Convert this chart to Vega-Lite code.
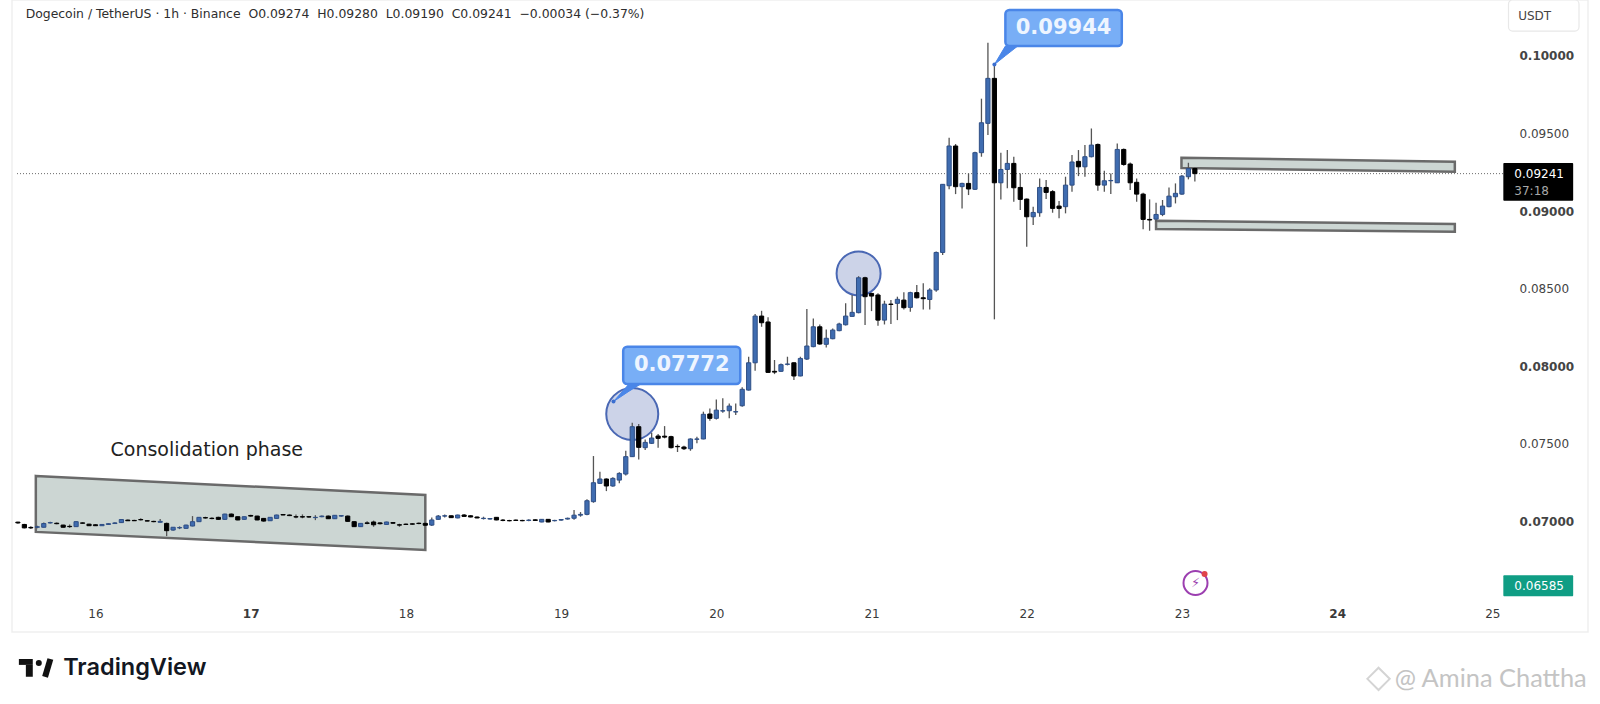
{
  "$schema": "https://vega.github.io/schema/vega-lite/v6.json",
  "width": 1576,
  "height": 632,
  "padding": {"left": 12, "top": 0, "right": 12, "bottom": 72},
  "autosize": {"type": "none"},
  "background": "#ffffff",
  "view": {"stroke": "#efefef", "strokeWidth": 1.5},
  "datasets": {
    "candles": [
      {"hour":12,"open":0.06995,"high":0.06998,"low":0.06985,"close":0.06990},
      {"hour":13,"open":0.06980,"high":0.06984,"low":0.06955,"close":0.06958},
      {"hour":14,"open":0.06961,"high":0.06968,"low":0.06950,"close":0.06958},
      {"hour":15,"open":0.06962,"high":0.06972,"low":0.06955,"close":0.06965},
      {"hour":16,"open":0.06962,"high":0.06992,"low":0.06960,"close":0.06986},
      {"hour":17,"open":0.06990,"high":0.06998,"low":0.06986,"close":0.06992},
      {"hour":18,"open":0.06988,"high":0.06992,"low":0.06982,"close":0.06985},
      {"hour":19,"open":0.06976,"high":0.06978,"low":0.06960,"close":0.06962},
      {"hour":20,"open":0.06968,"high":0.06980,"low":0.06958,"close":0.06966},
      {"hour":21,"open":0.06966,"high":0.07000,"low":0.06964,"close":0.06998},
      {"hour":22,"open":0.06990,"high":0.06994,"low":0.06985,"close":0.06988},
      {"hour":23,"open":0.06982,"high":0.06985,"low":0.06970,"close":0.06972},
      {"hour":24,"open":0.06978,"high":0.06982,"low":0.06970,"close":0.06972},
      {"hour":25,"open":0.06972,"high":0.06982,"low":0.06970,"close":0.06980},
      {"hour":26,"open":0.06980,"high":0.06988,"low":0.06978,"close":0.06985},
      {"hour":27,"open":0.06986,"high":0.06994,"low":0.06984,"close":0.06990},
      {"hour":28,"open":0.06992,"high":0.07014,"low":0.06990,"close":0.07012},
      {"hour":29,"open":0.07008,"high":0.07012,"low":0.07002,"close":0.07004},
      {"hour":30,"open":0.07006,"high":0.07010,"low":0.07002,"close":0.07004},
      {"hour":31,"open":0.07012,"high":0.07020,"low":0.07006,"close":0.07010},
      {"hour":32,"open":0.07004,"high":0.07008,"low":0.07000,"close":0.07002},
      {"hour":33,"open":0.07000,"high":0.07004,"low":0.06995,"close":0.06998},
      {"hour":34,"open":0.06994,"high":0.07015,"low":0.06992,"close":0.07000},
      {"hour":35,"open":0.06987,"high":0.06992,"low":0.06905,"close":0.06940},
      {"hour":36,"open":0.06944,"high":0.06964,"low":0.06940,"close":0.06962},
      {"hour":37,"open":0.06958,"high":0.06968,"low":0.06950,"close":0.06960},
      {"hour":38,"open":0.06955,"high":0.06978,"low":0.06952,"close":0.06976},
      {"hour":39,"open":0.06970,"high":0.07034,"low":0.06968,"close":0.06998},
      {"hour":40,"open":0.06998,"high":0.07028,"low":0.06996,"close":0.07026},
      {"hour":41,"open":0.07024,"high":0.07030,"low":0.07018,"close":0.07022},
      {"hour":42,"open":0.07020,"high":0.07026,"low":0.07014,"close":0.07018},
      {"hour":43,"open":0.07026,"high":0.07030,"low":0.07010,"close":0.07013},
      {"hour":44,"open":0.07013,"high":0.07049,"low":0.07011,"close":0.07047},
      {"hour":45,"open":0.07047,"high":0.07050,"low":0.07028,"close":0.07030},
      {"hour":46,"open":0.07030,"high":0.07032,"low":0.07007,"close":0.07009},
      {"hour":47,"open":0.07013,"high":0.07032,"low":0.07011,"close":0.07030},
      {"hour":48,"open":0.07038,"high":0.07042,"low":0.07030,"close":0.07034},
      {"hour":49,"open":0.07034,"high":0.07036,"low":0.07007,"close":0.07009},
      {"hour":50,"open":0.07019,"high":0.07022,"low":0.06998,"close":0.07002},
      {"hour":51,"open":0.07004,"high":0.07028,"low":0.07002,"close":0.07026},
      {"hour":52,"open":0.07019,"high":0.07043,"low":0.07017,"close":0.07041},
      {"hour":53,"open":0.07044,"high":0.07047,"low":0.07039,"close":0.07041},
      {"hour":54,"open":0.07041,"high":0.07045,"low":0.07034,"close":0.07037},
      {"hour":55,"open":0.07030,"high":0.07045,"low":0.07020,"close":0.07028},
      {"hour":56,"open":0.07030,"high":0.07045,"low":0.07020,"close":0.07028},
      {"hour":57,"open":0.07030,"high":0.07034,"low":0.07024,"close":0.07028},
      {"hour":58,"open":0.07024,"high":0.07040,"low":0.07008,"close":0.07026},
      {"hour":59,"open":0.07030,"high":0.07038,"low":0.07026,"close":0.07034},
      {"hour":60,"open":0.07034,"high":0.07038,"low":0.07015,"close":0.07017},
      {"hour":61,"open":0.07017,"high":0.07041,"low":0.07015,"close":0.07039},
      {"hour":62,"open":0.07034,"high":0.07039,"low":0.07030,"close":0.07037},
      {"hour":63,"open":0.07034,"high":0.07038,"low":0.06998,"close":0.07000},
      {"hour":64,"open":0.06998,"high":0.07000,"low":0.06964,"close":0.06966},
      {"hour":65,"open":0.06966,"high":0.06989,"low":0.06964,"close":0.06987},
      {"hour":66,"open":0.06990,"high":0.07000,"low":0.06982,"close":0.06987},
      {"hour":67,"open":0.06996,"high":0.07005,"low":0.06965,"close":0.06978},
      {"hour":68,"open":0.06990,"high":0.06995,"low":0.06980,"close":0.06985},
      {"hour":69,"open":0.06980,"high":0.06998,"low":0.06978,"close":0.06996},
      {"hour":70,"open":0.06992,"high":0.06996,"low":0.06984,"close":0.06988},
      {"hour":71,"open":0.06978,"high":0.06985,"low":0.06965,"close":0.06976},
      {"hour":72,"open":0.06982,"high":0.06986,"low":0.06976,"close":0.06980},
      {"hour":73,"open":0.06984,"high":0.06988,"low":0.06978,"close":0.06982},
      {"hour":74,"open":0.06988,"high":0.06992,"low":0.06982,"close":0.06986},
      {"hour":75,"open":0.06987,"high":0.06992,"low":0.06970,"close":0.06975},
      {"hour":76,"open":0.06976,"high":0.07025,"low":0.06970,"close":0.07009},
      {"hour":77,"open":0.07013,"high":0.07041,"low":0.07011,"close":0.07034},
      {"hour":78,"open":0.07034,"high":0.07045,"low":0.07025,"close":0.07036},
      {"hour":79,"open":0.07036,"high":0.07038,"low":0.07022,"close":0.07024},
      {"hour":80,"open":0.07022,"high":0.07043,"low":0.07020,"close":0.07041},
      {"hour":81,"open":0.07041,"high":0.07048,"low":0.07030,"close":0.07032},
      {"hour":82,"open":0.07036,"high":0.07040,"low":0.07026,"close":0.07028},
      {"hour":83,"open":0.07028,"high":0.07032,"low":0.07020,"close":0.07022},
      {"hour":84,"open":0.07018,"high":0.07030,"low":0.07012,"close":0.07020},
      {"hour":85,"open":0.07015,"high":0.07022,"low":0.07012,"close":0.07018},
      {"hour":86,"open":0.07026,"high":0.07028,"low":0.07007,"close":0.07009},
      {"hour":87,"open":0.07008,"high":0.07016,"low":0.07000,"close":0.07006},
      {"hour":88,"open":0.07005,"high":0.07010,"low":0.07000,"close":0.07004},
      {"hour":89,"open":0.07008,"high":0.07012,"low":0.07002,"close":0.07006},
      {"hour":90,"open":0.07006,"high":0.07010,"low":0.07000,"close":0.07004},
      {"hour":91,"open":0.07006,"high":0.07014,"low":0.07000,"close":0.07008},
      {"hour":92,"open":0.07010,"high":0.07014,"low":0.07002,"close":0.07006},
      {"hour":93,"open":0.06996,"high":0.07015,"low":0.06994,"close":0.07013},
      {"hour":94,"open":0.07013,"high":0.07015,"low":0.06994,"close":0.06996},
      {"hour":95,"open":0.07004,"high":0.07010,"low":0.07000,"close":0.07006},
      {"hour":96,"open":0.07008,"high":0.07016,"low":0.07004,"close":0.07012},
      {"hour":97,"open":0.07015,"high":0.07024,"low":0.07012,"close":0.07020},
      {"hour":98,"open":0.07020,"high":0.07073,"low":0.07010,"close":0.07040},
      {"hour":99,"open":0.07040,"high":0.07060,"low":0.07030,"close":0.07045},
      {"hour":100,"open":0.07045,"high":0.07142,"low":0.07040,"close":0.07133},
      {"hour":101,"open":0.07127,"high":0.07421,"low":0.07120,"close":0.07249},
      {"hour":102,"open":0.07245,"high":0.07320,"low":0.07241,"close":0.07273},
      {"hour":103,"open":0.07273,"high":0.07277,"low":0.07195,"close":0.07228},
      {"hour":104,"open":0.07228,"high":0.07284,"low":0.07223,"close":0.07277},
      {"hour":105,"open":0.07266,"high":0.07316,"low":0.07245,"close":0.07309},
      {"hour":106,"open":0.07305,"high":0.07455,"low":0.07296,"close":0.07417},
      {"hour":107,"open":0.07417,"high":0.07636,"low":0.07415,"close":0.07610},
      {"hour":108,"open":0.07610,"high":0.07627,"low":0.07399,"close":0.07477},
      {"hour":109,"open":0.07475,"high":0.07528,"low":0.07460,"close":0.07509},
      {"hour":110,"open":0.07503,"high":0.07571,"low":0.07498,"close":0.07537},
      {"hour":111,"open":0.07550,"high":0.07563,"low":0.07475,"close":0.07535},
      {"hour":112,"open":0.07549,"high":0.07614,"low":0.07535,"close":0.07543},
      {"hour":113,"open":0.07546,"high":0.07552,"low":0.07470,"close":0.07475},
      {"hour":114,"open":0.07483,"high":0.07496,"low":0.07447,"close":0.07481},
      {"hour":115,"open":0.07479,"high":0.07488,"low":0.07460,"close":0.07468},
      {"hour":116,"open":0.07468,"high":0.07535,"low":0.07455,"close":0.07531},
      {"hour":117,"open":0.07529,"high":0.07546,"low":0.07503,"close":0.07531},
      {"hour":118,"open":0.07531,"high":0.07707,"low":0.07529,"close":0.07690},
      {"hour":119,"open":0.07692,"high":0.07728,"low":0.07649,"close":0.07664},
      {"hour":120,"open":0.07664,"high":0.07786,"low":0.07657,"close":0.07717},
      {"hour":121,"open":0.07711,"high":0.07793,"low":0.07700,"close":0.07713},
      {"hour":122,"open":0.07713,"high":0.07760,"low":0.07664,"close":0.07743},
      {"hour":123,"open":0.07705,"high":0.07760,"low":0.07685,"close":0.07707},
      {"hour":124,"open":0.07745,"high":0.07864,"low":0.07739,"close":0.07851},
      {"hour":125,"open":0.07846,"high":0.08061,"low":0.07844,"close":0.08022},
      {"hour":126,"open":0.08022,"high":0.08336,"low":0.07971,"close":0.08323},
      {"hour":127,"open":0.08323,"high":0.08357,"low":0.08254,"close":0.08280},
      {"hour":128,"open":0.08285,"high":0.08315,"low":0.07958,"close":0.07960},
      {"hour":129,"open":0.07967,"high":0.08040,"low":0.07949,"close":0.07962},
      {"hour":130,"open":0.07967,"high":0.08018,"low":0.07962,"close":0.08010},
      {"hour":131,"open":0.08012,"high":0.08061,"low":0.08005,"close":0.08014},
      {"hour":132,"open":0.08022,"high":0.08026,"low":0.07911,"close":0.07937},
      {"hour":133,"open":0.07937,"high":0.08061,"low":0.07935,"close":0.08050},
      {"hour":134,"open":0.08046,"high":0.08368,"low":0.08040,"close":0.08130},
      {"hour":135,"open":0.08126,"high":0.08308,"low":0.08122,"close":0.08254},
      {"hour":136,"open":0.08254,"high":0.08269,"low":0.08139,"close":0.08143},
      {"hour":137,"open":0.08141,"high":0.08237,"low":0.08121,"close":0.08180},
      {"hour":138,"open":0.08177,"high":0.08243,"low":0.08173,"close":0.08233},
      {"hour":139,"open":0.08229,"high":0.08280,"low":0.08225,"close":0.08272},
      {"hour":140,"open":0.08267,"high":0.08405,"low":0.08263,"close":0.08323},
      {"hour":141,"open":0.08321,"high":0.08459,"low":0.08319,"close":0.08347},
      {"hour":142,"open":0.08345,"high":0.08580,"low":0.08341,"close":0.08570},
      {"hour":143,"open":0.08570,"high":0.08576,"low":0.08265,"close":0.08448},
      {"hour":144,"open":0.08469,"high":0.08473,"low":0.08355,"close":0.08452},
      {"hour":145,"open":0.08459,"high":0.08470,"low":0.08261,"close":0.08297},
      {"hour":146,"open":0.08297,"high":0.08422,"low":0.08269,"close":0.08400},
      {"hour":147,"open":0.08400,"high":0.08426,"low":0.08272,"close":0.08398},
      {"hour":148,"open":0.08405,"high":0.08448,"low":0.08297,"close":0.08431},
      {"hour":149,"open":0.08426,"high":0.08476,"low":0.08366,"close":0.08377},
      {"hour":150,"open":0.08379,"high":0.08480,"low":0.08351,"close":0.08474},
      {"hour":151,"open":0.08474,"high":0.08523,"low":0.08437,"close":0.08441},
      {"hour":152,"open":0.08441,"high":0.08534,"low":0.08366,"close":0.08435},
      {"hour":153,"open":0.08430,"high":0.08502,"low":0.08366,"close":0.08491},
      {"hour":154,"open":0.08491,"high":0.08739,"low":0.08480,"close":0.08733},
      {"hour":155,"open":0.08733,"high":0.09172,"low":0.08716,"close":0.09172},
      {"hour":156,"open":0.09163,"high":0.09472,"low":0.09140,"close":0.09419},
      {"hour":157,"open":0.09419,"high":0.09432,"low":0.09109,"close":0.09157},
      {"hour":158,"open":0.09157,"high":0.09182,"low":0.09017,"close":0.09178},
      {"hour":159,"open":0.09178,"high":0.09242,"low":0.09103,"close":0.09142},
      {"hour":160,"open":0.09140,"high":0.09382,"low":0.09136,"close":0.09376},
      {"hour":161,"open":0.09376,"high":0.09724,"low":0.09350,"close":0.09569},
      {"hour":162,"open":0.09565,"high":0.10084,"low":0.09490,"close":0.09855},
      {"hour":163,"open":0.09855,"high":0.09944,"low":0.08302,"close":0.09182},
      {"hour":164,"open":0.09182,"high":0.09376,"low":0.09075,"close":0.09268},
      {"hour":165,"open":0.09268,"high":0.09393,"low":0.09146,"close":0.09307},
      {"hour":166,"open":0.09307,"high":0.09350,"low":0.09060,"close":0.09150},
      {"hour":167,"open":0.09152,"high":0.09242,"low":0.09006,"close":0.09075},
      {"hour":168,"open":0.09077,"high":0.09081,"low":0.08770,"close":0.08963},
      {"hour":169,"open":0.08963,"high":0.09028,"low":0.08910,"close":0.08991},
      {"hour":170,"open":0.08989,"high":0.09210,"low":0.08963,"close":0.09152},
      {"hour":171,"open":0.09152,"high":0.09200,"low":0.09077,"close":0.09120},
      {"hour":172,"open":0.09125,"high":0.09135,"low":0.08989,"close":0.09017},
      {"hour":173,"open":0.09032,"high":0.09064,"low":0.08953,"close":0.09017},
      {"hour":174,"open":0.09028,"high":0.09221,"low":0.08985,"close":0.09167},
      {"hour":175,"open":0.09167,"high":0.09361,"low":0.09124,"close":0.09316},
      {"hour":176,"open":0.09320,"high":0.09393,"low":0.09225,"close":0.09285},
      {"hour":177,"open":0.09285,"high":0.09425,"low":0.09221,"close":0.09350},
      {"hour":178,"open":0.09350,"high":0.09532,"low":0.09346,"close":0.09425},
      {"hour":179,"open":0.09429,"high":0.09436,"low":0.09131,"close":0.09167},
      {"hour":180,"open":0.09167,"high":0.09260,"low":0.09124,"close":0.09195},
      {"hour":181,"open":0.09195,"high":0.09242,"low":0.09109,"close":0.09197},
      {"hour":182,"open":0.09182,"high":0.09436,"low":0.09180,"close":0.09397},
      {"hour":183,"open":0.09397,"high":0.09403,"low":0.09292,"close":0.09300},
      {"hour":184,"open":0.09303,"high":0.09312,"low":0.09135,"close":0.09182},
      {"hour":185,"open":0.09185,"high":0.09210,"low":0.09060,"close":0.09109},
      {"hour":186,"open":0.09109,"high":0.09118,"low":0.08882,"close":0.08946},
      {"hour":187,"open":0.08946,"high":0.09075,"low":0.08873,"close":0.08942},
      {"hour":188,"open":0.08948,"high":0.09053,"low":0.08931,"close":0.08978},
      {"hour":189,"open":0.08978,"high":0.09071,"low":0.08967,"close":0.09032},
      {"hour":190,"open":0.09028,"high":0.09152,"low":0.09024,"close":0.09096},
      {"hour":191,"open":0.09092,"high":0.09178,"low":0.09049,"close":0.09114},
      {"hour":192,"open":0.09109,"high":0.09232,"low":0.09105,"close":0.09225},
      {"hour":193,"open":0.09221,"high":0.09311,"low":0.09204,"close":0.09274},
      {"hour":194,"open":0.09274,"high":0.09280,"low":0.09190,"close":0.09241}
    ]
  },
  "encoding": {
    "x": {
      "field": "hour",
      "type": "quantitative",
      "scale": {"domain": [11.86, 254.02], "nice": false, "zero": false},
      "axis": {
        "title": null,
        "orient": "bottom",
        "offset": -24,
        "values": [24, 48, 72, 96, 120, 144, 168, 192, 216, 240],
        "labelExpr": "datum.value / 24 + 15",
        "grid": false,
        "domain": false,
        "ticks": false,
        "labelPadding": 0,
        "labelFont": "DejaVu Sans",
        "labelFontSize": 12,
        "labelColor": "#3a3a3a",
        "labelFontWeight": {"condition": {"test": "datum.value == 48 || datum.value == 216", "value": "bold"}, "value": "normal"}
      }
    },
    "y": {
      "field": "price",
      "type": "quantitative",
      "scale": {"domain": [0.06287, 0.1036], "nice": false, "zero": false},
      "axis": {
        "title": null,
        "orient": "right",
        "offset": -69,
        "values": [0.07, 0.075, 0.08, 0.085, 0.09, 0.095, 0.1],
        "format": ".5f",
        "grid": false,
        "domain": false,
        "ticks": false,
        "labelPadding": 0,
        "labelFont": "DejaVu Sans",
        "labelFontSize": 12,
        "labelFontWeight": {"condition": {"test": "indexof(['0.10000', '0.09000', '0.08000', '0.07000'], datum.label) >= 0", "value": "bold"}, "value": "normal"},
        "labelColor": "#444444"
      }
    }
  },
  "layer": [
    {
      "data": {"values": [{"hour": 11.86, "hour2": 241.7, "price": 0.09241}]},
      "mark": {"type": "rule", "color": "#6b6b6b", "strokeWidth": 1, "strokeDash": [1, 2]},
      "encoding": {"x2": {"field": "hour2"}}
    },
    {
      "data": {"values": [
        {"zone": "consolidation", "hour": 14.77, "price": 0.07293, "price2": 0.06932},
        {"zone": "consolidation", "hour": 75.0, "price": 0.0717, "price2": 0.06816},
        {"zone": "resistance", "hour": 191.93, "price": 0.09343, "price2": 0.09277},
        {"zone": "resistance", "hour": 234.2, "price": 0.09318, "price2": 0.09253},
        {"zone": "support", "hour": 188, "price": 0.08937, "price2": 0.08884},
        {"zone": "support", "hour": 234.2, "price": 0.08916, "price2": 0.08867}
      ]},
      "mark": {"type": "area", "fill": "#ccd6d3", "stroke": "#6a6a6a", "strokeWidth": 2.5, "opacity": 1},
      "encoding": {"y2": {"field": "price2"}, "detail": {"field": "zone"}}
    },
    {
      "data": {"values": [
        {"marker": "big", "hour": 107, "price": 0.07692},
        {"marker": "small", "hour": 142, "price": 0.08598}
      ]},
      "mark": {"type": "point", "shape": "circle", "filled": true, "fill": "#ccd3e8", "stroke": "#4a68b4", "strokeWidth": 2, "opacity": 1},
      "encoding": {
        "size": {"field": "marker", "type": "nominal", "scale": {"domain": ["big", "small"], "range": [2704, 1936]}, "legend": null}
      }
    },
    {
      "data": {"name": "candles"},
      "mark": {"type": "rule", "color": "#555555", "strokeWidth": 1.3},
      "encoding": {"y": {"field": "high", "type": "quantitative"}, "y2": {"field": "low"}}
    },
    {
      "data": {"name": "candles"},
      "mark": {"type": "bar", "width": 4.2, "strokeWidth": 1},
      "encoding": {
        "y": {"field": "open", "type": "quantitative"},
        "y2": {"field": "close"},
        "fill": {"condition": {"test": "datum.close >= datum.open", "value": "#3f6cb0"}, "value": "#000000"},
        "stroke": {"condition": {"test": "datum.close >= datum.open", "value": "#2f4f86"}, "value": "#000000"}
      }
    },
    {
      "data": {"values": [
        {"callout": "low", "hour": 104.1, "price": 0.07772, "price2": 0.07772},
        {"callout": "low", "hour": 106.5, "price": 0.07885, "price2": 0.07839},
        {"callout": "low", "hour": 108.3, "price": 0.07885, "price2": 0.07885},
        {"callout": "high", "hour": 163, "price": 0.09944, "price2": 0.09944},
        {"callout": "high", "hour": 164.7, "price": 0.10063, "price2": 0.10001},
        {"callout": "high", "hour": 166.6, "price": 0.10063, "price2": 0.10063}
      ]},
      "mark": {"type": "area", "fill": "#4a86e8", "stroke": "#4a86e8", "strokeWidth": 1},
      "encoding": {"y2": {"field": "price2"}, "detail": {"field": "callout"}}
    },
    {
      "data": {"values": [
        {"hour": 104.1, "price": 0.07772},
        {"hour": 163, "price": 0.09944}
      ]},
      "mark": {"type": "point", "shape": "circle", "filled": true, "color": "#3b6fd0", "size": 16, "opacity": 1}
    },
    {
      "data": {"values": [
        {"hour": 105.6, "hour2": 123.7, "price": 0.08126, "price2": 0.07885},
        {"hour": 164.7, "hour2": 182.7, "price": 0.10295, "price2": 0.10063}
      ]},
      "mark": {"type": "rect", "fill": "#78aef6", "stroke": "#4a86e8", "strokeWidth": 2.5, "cornerRadius": 4},
      "encoding": {"x2": {"field": "hour2"}, "y2": {"field": "price2"}}
    },
    {
      "data": {"values": [
        {"label": "0.07772", "hour": 114.65, "price": 0.08005},
        {"label": "0.09944", "hour": 173.7, "price": 0.10179}
      ]},
      "mark": {"type": "text", "font": "DejaVu Sans", "fontSize": 21, "fontWeight": "bold", "color": "#eef5ff"},
      "encoding": {"text": {"field": "label"}}
    },
    {
      "data": {"values": [{"label": "Consolidation phase", "hour": 41.2, "price": 0.0746}]},
      "mark": {"type": "text", "font": "DejaVu Sans", "fontSize": 19, "color": "#222222"},
      "encoding": {"text": {"field": "label"}}
    },
    {
      "data": {"values": [{"label": "Dogecoin / TetherUS · 1h · Binance\u00a0\u00a0O0.09274\u00a0\u00a0H0.09280\u00a0\u00a0L0.09190\u00a0\u00a0C0.09241\u00a0\u00a0−0.00034 (−0.37%)", "hour": 13.2, "price": 0.10268}]},
      "mark": {"type": "text", "align": "left", "font": "DejaVu Sans", "fontSize": 12.4, "color": "#2e2e2e"},
      "encoding": {"text": {"field": "label"}}
    },
    {
      "data": {"values": [
        {"tag": "last", "hour": 241.7, "hour2": 252.5, "price": 0.09309, "price2": 0.09066},
        {"tag": "low", "hour": 241.7, "hour2": 252.5, "price": 0.06652, "price2": 0.06518}
      ]},
      "mark": {"type": "rect", "cornerRadius": 1},
      "encoding": {
        "x2": {"field": "hour2"},
        "y2": {"field": "price2"},
        "fill": {"field": "tag", "type": "nominal", "scale": {"domain": ["last", "low"], "range": ["#000000", "#0f9d84"]}, "legend": null}
      }
    },
    {
      "data": {"values": [
        {"label": "0.09241", "hour": 243.4, "price": 0.09238},
        {"label": "0.06585", "hour": 243.4, "price": 0.06585}
      ]},
      "mark": {"type": "text", "align": "left", "font": "DejaVu Sans", "fontSize": 12, "color": "#ffffff"},
      "encoding": {"text": {"field": "label"}}
    },
    {
      "data": {"values": [{"label": "37:18", "hour": 243.4, "price": 0.09129}]},
      "mark": {"type": "text", "align": "left", "font": "DejaVu Sans", "fontSize": 12, "color": "#a8a8a8"},
      "encoding": {"text": {"field": "label"}}
    },
    {
      "data": {"values": [{"hour": 242.5, "hour2": 253.4, "price": 0.1036, "price2": 0.1016}]},
      "mark": {"type": "rect", "fill": "#ffffff", "stroke": "#e8e8e8", "strokeWidth": 1.2, "cornerRadius": 4},
      "encoding": {"x2": {"field": "hour2"}, "y2": {"field": "price2"}}
    },
    {
      "data": {"values": [{"label": "USDT", "hour": 244, "price": 0.10255}]},
      "mark": {"type": "text", "align": "left", "font": "DejaVu Sans", "fontSize": 12, "color": "#444444"},
      "encoding": {"text": {"field": "label"}}
    },
    {
      "data": {"values": [{"hour": 194.1, "price": 0.06603}]},
      "mark": {"type": "point", "shape": "circle", "filled": false, "stroke": "#9c3fb0", "strokeWidth": 2, "size": 576, "opacity": 1}
    },
    {
      "data": {"values": [{"label": "⚡", "hour": 194.1, "price": 0.06603}]},
      "mark": {"type": "text", "font": "DejaVu Sans", "fontSize": 13, "color": "#9c3fb0"},
      "encoding": {"text": {"field": "label"}}
    },
    {
      "data": {"values": [{"hour": 195.5, "price": 0.06661}]},
      "mark": {"type": "point", "shape": "circle", "filled": true, "color": "#e0434b", "size": 36, "opacity": 1}
    },
    {
      "data": {"values": [{"hour": 12.15, "hour2": 14.3, "price": 0.06113, "price2": 0.06075}, {"hour": 13.23, "hour2": 14.3, "price": 0.06075, "price2": 0.05998}]},
      "mark": {"type": "rect", "fill": "#111111"},
      "encoding": {"x2": {"field": "hour2"}, "y2": {"field": "price2"}}
    },
    {
      "data": {"values": [{"hour": 15.23, "price": 0.06088}]},
      "mark": {"type": "point", "shape": "circle", "filled": true, "color": "#111111", "size": 36, "opacity": 1}
    },
    {
      "data": {"values": [{"hour": 17.02, "price": 0.06113}, {"hour": 16.2, "price": 0.05998}]},
      "mark": {"type": "line", "color": "#111111", "strokeWidth": 6}
    },
    {
      "data": {"values": [{"label": "TradingView", "hour": 19, "price": 0.06055}]},
      "mark": {"type": "text", "align": "left", "font": "Inter", "fontSize": 23.5, "fontWeight": 600, "color": "#131722"},
      "encoding": {"text": {"field": "label"}}
    },
    {
      "data": {"values": [{"hour": 222.4, "price": 0.05985}]},
      "mark": {"type": "point", "shape": "diamond", "filled": false, "stroke": "#d4d4d4", "strokeWidth": 2, "size": 500, "opacity": 1}
    },
    {
      "data": {"values": [{"label": "@ Amina Chattha", "hour": 254.6, "price": 0.05985}]},
      "mark": {"type": "text", "align": "right", "font": "Lato", "fontSize": 25.4, "color": "#c4c4c4"},
      "encoding": {"text": {"field": "label"}}
    }
  ]
}
